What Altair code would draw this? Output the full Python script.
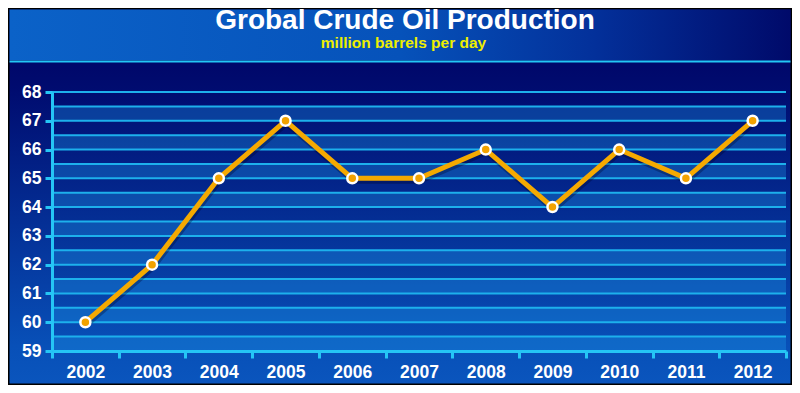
import altair as alt
import pandas as pd

# ---- data ----
years = ["2002", "2003", "2004", "2005", "2006", "2007", "2008", "2009", "2010", "2011", "2012"]
production = [60, 62, 65, 67, 65, 65, 66, 64, 66, 65, 67]
y_tick_values = [59, 60, 61, 62, 63, 64, 65, 66, 67, 68]
stripe_lo = [59, 60, 61, 62, 63, 64, 65, 66, 67]
stripe_hi = [59.5, 60.5, 61.5, 62.5, 63.5, 64.5, 65.5, 66.5, 67.5]
grid_values = [59.5, 60, 60.5, 61, 61.5, 62, 62.5, 63, 63.5, 64, 64.5, 65, 65.5,
               66, 66.5, 67, 67.5, 68]
title_text = "Grobal Crude Oil Production"
subtitle_text = "million barrels per day"

# ---- layout (pixels) ----
W, H = 734, 259          # plot area
L, T = 44, 84            # plot offset inside chart
TOTAL_W, TOTAL_H = 784, 377

df = pd.DataFrame({"year": years, "value": production})
stripes = pd.DataFrame({"lo": stripe_lo, "hi": stripe_hi})
grid = pd.DataFrame({"g": grid_values})
one = pd.DataFrame({"k": [0]})

bg_grad = alt.LinearGradient(
    gradient="linear", x1=0, x2=0, y1=0, y2=1,
    stops=[
        alt.GradientStop(offset=0, color="#00086a"),
        alt.GradientStop(offset=0.15, color="#00086a"),
        alt.GradientStop(offset=0.22, color="#000c70"),
        alt.GradientStop(offset=0.9, color="#0850b8"),
        alt.GradientStop(offset=1, color="#0a55bd"),
    ],
)
title_grad = alt.LinearGradient(
    gradient="linear", x1=0, x2=1, y1=0, y2=0,
    stops=[
        alt.GradientStop(offset=0, color="#0b62c8"),
        alt.GradientStop(offset=0.5, color="#0652ba"),
        alt.GradientStop(offset=0.75, color="#03309a"),
        alt.GradientStop(offset=1, color="#000a6a"),
    ],
)

background = alt.Chart(one).mark_rect(fill=bg_grad, stroke="#000000", strokeWidth=1.5).encode(
    x=alt.value(-L + 0.75), x2=alt.value(TOTAL_W - L - 0.75),
    y=alt.value(-T + 0.75), y2=alt.value(TOTAL_H - T - 0.75),
)
title_band = alt.Chart(one).mark_rect(fill=title_grad).encode(
    x=alt.value(-L + 1.5), x2=alt.value(TOTAL_W - L - 1.5),
    y=alt.value(-T + 1.5), y2=alt.value(52 - T),
)
title_rule = alt.Chart(one).mark_rule(color="#22c8f5", strokeWidth=2).encode(
    x=alt.value(-L + 1.5), x2=alt.value(TOTAL_W - L - 1.5),
    y=alt.value(53.5 - T),
)
title_mark = alt.Chart(one).mark_text(
    text=title_text, font="Liberation Sans", fontWeight="bold", fontSize=28,
    color="white", align="center", baseline="alphabetic",
).encode(x=alt.value(353), y=alt.value(-63.5))
subtitle_mark = alt.Chart(one).mark_text(
    text=subtitle_text, font="Liberation Sans", fontWeight="bold", fontSize=15.5,
    color="#eeee00", align="center", baseline="alphabetic",
).encode(x=alt.value(351.5), y=alt.value(-44.3))

y_scale = alt.Scale(domain=[59, 68], nice=False, zero=False)
y_axis = alt.Axis(values=y_tick_values, labelPadding=4, labelOverlap=False,
                  tickCount=10, zindex=1)

stripe_layer = alt.Chart(stripes).mark_rect(fill="#1f9aeb", opacity=0.33).encode(
    x=alt.value(0), x2=alt.value(W),
    y=alt.Y("lo:Q", scale=y_scale, axis=y_axis, title=None), y2="hi:Q",
)
grid_layer = alt.Chart(grid).mark_rule(color="#1db0ec", strokeWidth=2).encode(
    x=alt.value(0), x2=alt.value(W),
    y=alt.Y("g:Q", scale=y_scale, axis=y_axis, title=None),
)

x_enc = alt.X(
    "year:O", sort=years, title=None, bandPosition=0.5,
    scale=alt.Scale(type="band", paddingInner=0, paddingOuter=0),
    axis=alt.Axis(labelAngle=0, tickBand="extent", labelPadding=5, zindex=1),
)
y_enc = alt.Y("value:Q", scale=y_scale, title=None, axis=y_axis)

shadow = alt.Chart(df).mark_line(color="#000020", opacity=0.3, strokeWidth=5, xOffset=1, yOffset=3).encode(
    x=x_enc, y=y_enc
)
line = alt.Chart(df).mark_line(color="#f5a900", strokeWidth=5).encode(x=x_enc, y=y_enc)
points = alt.Chart(df).mark_circle(
    color="#f2a200", stroke="white", strokeWidth=2.5, size=100, opacity=1
).encode(x=x_enc, y=y_enc)

chart = alt.layer(
    background, title_band, title_rule, title_mark, subtitle_mark,
    stripe_layer, grid_layer, shadow, line, points,
).properties(
    width=W, height=H, background="white",
    autosize=alt.AutoSizeParams(type="none"),
    padding={"left": L, "top": T, "right": TOTAL_W - L - W, "bottom": TOTAL_H - T - H},
).configure_view(
    strokeWidth=0,
).configure_axis(
    domainColor="#25c5f5", domainWidth=3,
    tickColor="#25c5f5", tickWidth=3, tickSize=7,
    labelColor="white", labelFont="Liberation Sans", labelFontWeight="bold",
    labelFontSize=17.5, grid=False,
).configure_axisY(
    labelOverlap=False,
)

chart.save("out.html", embed_options={"renderer": "svg", "actions": False})
